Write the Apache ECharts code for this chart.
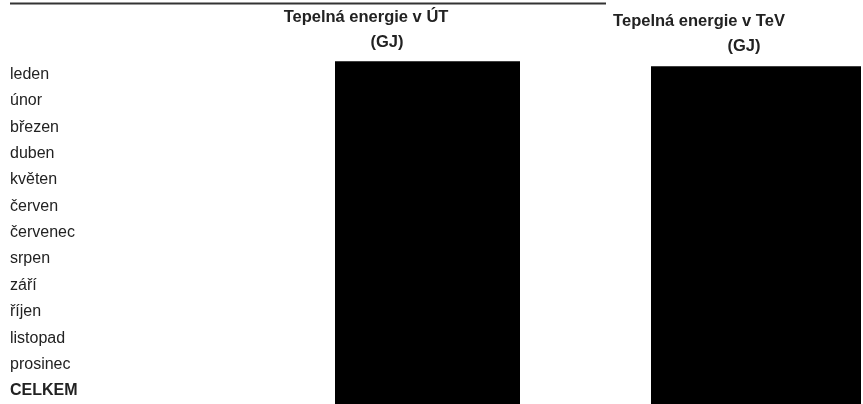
<!DOCTYPE html>
<html>
<head>
<meta charset="utf-8">
<script src="https://cdn.jsdelivr.net/npm/echarts@6/dist/echarts.min.js"></script>
<style>
  html, body { margin: 0; padding: 0; background: #fff; }
  #chart { width: 863px; height: 404px; }
</style>
</head>
<body>
<div id="chart"></div>
<script>
// Row labels (months + total)
const rowLabels = ['leden', 'únor', 'březen', 'duben', 'květen', 'červen', 'červenec', 'srpen', 'září', 'říjen', 'listopad', 'prosinec', 'CELKEM'];
// Column headers
const headerUT = ['Tepelná energie v ÚT', '(GJ)'];
const headerTeV = ['Tepelná energie v TeV', '(GJ)'];
// Cell values are redacted (black boxes): 1 = redacted cell
const redactedUT = [1, 1, 1, 1, 1, 1, 1, 1, 1, 1, 1, 1, 1];
const redactedTeV = [1, 1, 1, 1, 1, 1, 1, 1, 1, 1, 1, 1, 1];

const chart = echarts.init(document.getElementById('chart'), null, { renderer: 'canvas' });
const FONT = 'Liberation Sans, Arial, sans-serif';
const TXT = '#222';
const HFONT = 'bold 16.5px ' + FONT;

const option = {
  backgroundColor: '#fff',
  animation: false,
  grid: [
    { left: 335, width: 185, top: 61.3, bottom: 0 },
    { left: 651, width: 210, top: 66.3, bottom: 0 }
  ],
  xAxis: [
    { gridIndex: 0, type: 'value', min: 0, max: 1, show: false },
    { gridIndex: 1, type: 'value', min: 0, max: 1, show: false }
  ],
  yAxis: [
    {
      gridIndex: 0, type: 'category', data: rowLabels, inverse: true,
      axisLine: { show: false }, axisTick: { show: false }, splitLine: { show: false },
      axisLabel: {
        align: 'left', margin: 325, color: TXT, fontFamily: FONT, fontSize: 16,
        formatter: function (v) { return v === 'CELKEM' ? '{b|' + v + '}' : v; },
        rich: { b: { fontWeight: 'bold', fontFamily: FONT, fontSize: 16, color: TXT } }
      }
    },
    {
      gridIndex: 1, type: 'category', data: rowLabels, inverse: true, show: false
    }
  ],
  series: [
    {
      type: 'bar', xAxisIndex: 0, yAxisIndex: 0, data: redactedUT,
      barWidth: '110%', itemStyle: { color: '#000' }, silent: true
    },
    {
      type: 'bar', xAxisIndex: 1, yAxisIndex: 1, data: redactedTeV,
      barWidth: '110%', itemStyle: { color: '#000' }, silent: true
    }
  ],
  graphic: [
    { type: 'line', shape: { x1: 10, y1: 3.5, x2: 606, y2: 3.5 }, style: { stroke: '#333', lineWidth: 2 } },
    { type: 'text', x: 366, y: 17, style: { text: headerUT[0], font: HFONT, fill: TXT, textAlign: 'center', textVerticalAlign: 'middle' } },
    { type: 'text', x: 387, y: 42, style: { text: headerUT[1], font: HFONT, fill: TXT, textAlign: 'center', textVerticalAlign: 'middle' } },
    { type: 'text', x: 699, y: 21, style: { text: headerTeV[0], font: HFONT, fill: TXT, textAlign: 'center', textVerticalAlign: 'middle' } },
    { type: 'text', x: 744, y: 46, style: { text: headerTeV[1], font: HFONT, fill: TXT, textAlign: 'center', textVerticalAlign: 'middle' } }
  ]
};
chart.setOption(option);
</script>
</body>
</html>
